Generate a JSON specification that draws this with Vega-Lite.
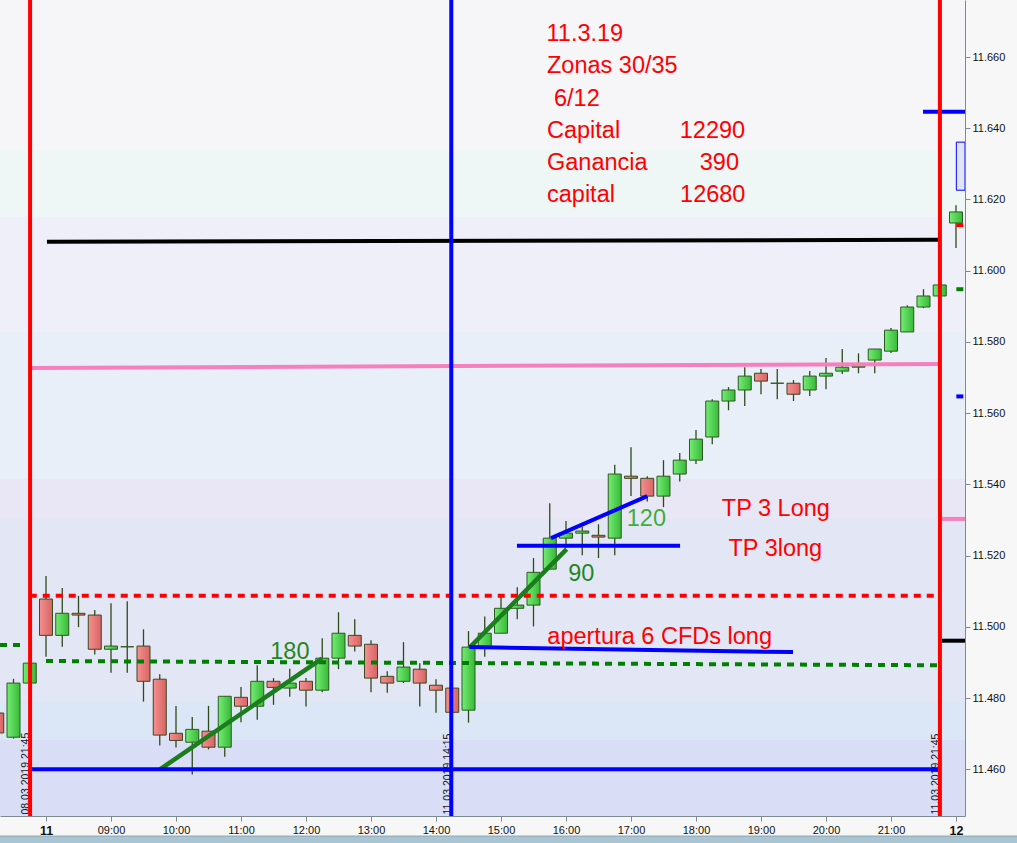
{
  "$schema": "https://vega.github.io/schema/vega-lite/v6.json",
  "width": 965,
  "height": 816,
  "autosize": {"type": "none"},
  "padding": {"left": 0, "top": 0, "right": 52, "bottom": 27},
  "background": "#f7f7f7",
  "config": {"view": {"stroke": null}, "font": "Liberation Sans"},
  "datasets": {
    "candles": [
      {"x": -3, "o": 11.4758, "h": 11.4765, "l": 11.4695, "c": 11.4702},
      {"x": -2, "o": 11.469, "h": 11.4854, "l": 11.4686, "c": 11.4842},
      {"x": -1, "o": 11.4842, "h": 11.4898, "l": 11.4842, "c": 11.4898},
      {"x": 0, "o": 11.5078, "h": 11.5143, "l": 11.4916, "c": 11.4976},
      {"x": 1, "o": 11.4976, "h": 11.5109, "l": 11.4944, "c": 11.5038},
      {"x": 2, "o": 11.5038, "h": 11.5087, "l": 11.4999, "c": 11.5033},
      {"x": 3, "o": 11.5033, "h": 11.5047, "l": 11.4922, "c": 11.4937},
      {"x": 4, "o": 11.4937, "h": 11.5066, "l": 11.4871, "c": 11.4946},
      {"x": 5, "o": 11.4944, "h": 11.5072, "l": 11.4871, "c": 11.4944},
      {"x": 6, "o": 11.4946, "h": 11.4993, "l": 11.479, "c": 11.4847},
      {"x": 7, "o": 11.4853, "h": 11.4867, "l": 11.4667, "c": 11.4696},
      {"x": 8, "o": 11.4701, "h": 11.4778, "l": 11.4661, "c": 11.4681},
      {"x": 9, "o": 11.4676, "h": 11.4747, "l": 11.4585, "c": 11.4712},
      {"x": 10, "o": 11.4707, "h": 11.4778, "l": 11.4656, "c": 11.4662},
      {"x": 11, "o": 11.4662, "h": 11.4805, "l": 11.4635, "c": 11.4805},
      {"x": 12, "o": 11.4802, "h": 11.4831, "l": 11.4732, "c": 11.4777},
      {"x": 13, "o": 11.4777, "h": 11.4892, "l": 11.4739, "c": 11.4847},
      {"x": 14, "o": 11.4847, "h": 11.4856, "l": 11.4781, "c": 11.483},
      {"x": 15, "o": 11.4828, "h": 11.4882, "l": 11.4804, "c": 11.4842},
      {"x": 16, "o": 11.4847, "h": 11.4856, "l": 11.4776, "c": 11.4822},
      {"x": 17, "o": 11.4822, "h": 11.4968, "l": 11.4816, "c": 11.4912},
      {"x": 18, "o": 11.4912, "h": 11.5041, "l": 11.4881, "c": 11.4982},
      {"x": 19, "o": 11.4976, "h": 11.5021, "l": 11.4931, "c": 11.4946},
      {"x": 20, "o": 11.4951, "h": 11.4962, "l": 11.4816, "c": 11.4856},
      {"x": 21, "o": 11.4861, "h": 11.4875, "l": 11.4815, "c": 11.4842},
      {"x": 22, "o": 11.4847, "h": 11.4957, "l": 11.4842, "c": 11.4887},
      {"x": 23, "o": 11.4881, "h": 11.4898, "l": 11.4776, "c": 11.4842},
      {"x": 24, "o": 11.4836, "h": 11.4853, "l": 11.4759, "c": 11.4822},
      {"x": 25, "o": 11.4828, "h": 11.4832, "l": 11.4758, "c": 11.476},
      {"x": 26, "o": 11.4766, "h": 11.4988, "l": 11.4731, "c": 11.4943},
      {"x": 27, "o": 11.4943, "h": 11.5029, "l": 11.4916, "c": 11.4982},
      {"x": 28, "o": 11.4982, "h": 11.5085, "l": 11.4982, "c": 11.5052},
      {"x": 29, "o": 11.5052, "h": 11.5111, "l": 11.5021, "c": 11.5061},
      {"x": 30, "o": 11.5061, "h": 11.5193, "l": 11.5001, "c": 11.5153},
      {"x": 31, "o": 11.5162, "h": 11.5347, "l": 11.5162, "c": 11.5249},
      {"x": 32, "o": 11.5249, "h": 11.5297, "l": 11.5222, "c": 11.5263},
      {"x": 33, "o": 11.5263, "h": 11.5281, "l": 11.5201, "c": 11.5269},
      {"x": 34, "o": 11.5257, "h": 11.5288, "l": 11.5193, "c": 11.5252},
      {"x": 35, "o": 11.5249, "h": 11.5455, "l": 11.5201, "c": 11.5429},
      {"x": 36, "o": 11.5423, "h": 11.5504, "l": 11.5367, "c": 11.5417},
      {"x": 37, "o": 11.5417, "h": 11.5423, "l": 11.5352, "c": 11.5367},
      {"x": 38, "o": 11.5367, "h": 11.5468, "l": 11.5336, "c": 11.5423},
      {"x": 39, "o": 11.5429, "h": 11.5488, "l": 11.5408, "c": 11.5468},
      {"x": 40, "o": 11.5468, "h": 11.5553, "l": 11.5457, "c": 11.5527},
      {"x": 41, "o": 11.5533, "h": 11.5639, "l": 11.5513, "c": 11.5634},
      {"x": 42, "o": 11.5634, "h": 11.5673, "l": 11.5608, "c": 11.5665},
      {"x": 43, "o": 11.5665, "h": 11.5729, "l": 11.562, "c": 11.5704},
      {"x": 44, "o": 11.5712, "h": 11.5724, "l": 11.5653, "c": 11.569},
      {"x": 45, "o": 11.5684, "h": 11.5724, "l": 11.5639, "c": 11.5684},
      {"x": 46, "o": 11.5684, "h": 11.5693, "l": 11.5634, "c": 11.5653},
      {"x": 47, "o": 11.5665, "h": 11.5718, "l": 11.5648, "c": 11.5704},
      {"x": 48, "o": 11.5704, "h": 11.5755, "l": 11.5667, "c": 11.5712},
      {"x": 49, "o": 11.5718, "h": 11.578, "l": 11.571, "c": 11.5729},
      {"x": 50, "o": 11.5729, "h": 11.5768, "l": 11.5712, "c": 11.5732},
      {"x": 51, "o": 11.5749, "h": 11.578, "l": 11.5712, "c": 11.578},
      {"x": 52, "o": 11.5774, "h": 11.5839, "l": 11.5769, "c": 11.5833},
      {"x": 53, "o": 11.5828, "h": 11.5903, "l": 11.5828, "c": 11.5898},
      {"x": 54, "o": 11.5898, "h": 11.5948, "l": 11.5895, "c": 11.5929},
      {"x": 55, "o": 11.5929, "h": 11.596, "l": 11.5929, "c": 11.596},
      {"x": 56, "o": 11.6134, "h": 11.6184, "l": 11.6064, "c": 11.6165}
    ],
    "bands": [
      {"lo": 11.6338, "hi": 11.67601, "band": "b1"},
      {"lo": 11.6152, "hi": 11.6338, "band": "b2"},
      {"lo": 11.5829, "hi": 11.6152, "band": "b3"},
      {"lo": 11.5415, "hi": 11.5829, "band": "b4"},
      {"lo": 11.5303, "hi": 11.5415, "band": "b5"},
      {"lo": 11.4792, "hi": 11.5303, "band": "b6"},
      {"lo": 11.4682, "hi": 11.4792, "band": "b7"},
      {"lo": 11.44688, "hi": 11.4682, "band": "b8"}
    ],
    "segs": [
      {"name": "black", "x": 0.06, "x2": 54.95, "y": 11.6081, "y2": 11.6087},
      {"name": "black", "x": 55.14, "x2": 56.554, "y": 11.4961, "y2": 11.4961},
      {"name": "pink", "x": -1, "x2": 55, "y": 11.5727, "y2": 11.5738},
      {"name": "pink", "x": 55.14, "x2": 56.554, "y": 11.5303, "y2": 11.5303},
      {"name": "reddash", "x": -1, "x2": 55, "y": 11.5087, "y2": 11.5087},
      {"name": "redmark", "x": 56.02, "x2": 56.45, "y": 11.6128, "y2": 11.6128},
      {"name": "greendash", "x": 0, "x2": 55, "y": 11.4904, "y2": 11.4892},
      {"name": "greendash", "x": -2.83, "x2": -1.3, "y": 11.4949, "y2": 11.4949},
      {"name": "greenmark", "x": 56.02, "x2": 56.45, "y": 11.5948, "y2": 11.5948},
      {"name": "greenline", "x": 7.02, "x2": 16.98, "y": 11.46, "y2": 11.4911},
      {"name": "greenline", "x": 26.05, "x2": 32.04, "y": 11.4941, "y2": 11.5218},
      {"name": "blue", "x": -1, "x2": 55, "y": 11.46, "y2": 11.46},
      {"name": "blue", "x": 28.98, "x2": 39.02, "y": 11.5228, "y2": 11.5228},
      {"name": "blue", "x": 31.08, "x2": 37.0, "y": 11.5249, "y2": 11.5367},
      {"name": "blue", "x": 26.05, "x2": 45.97, "y": 11.4943, "y2": 11.4929},
      {"name": "blue", "x": 53.97, "x2": 56.554, "y": 11.6446, "y2": 11.6446},
      {"name": "blue", "x": 56.02, "x2": 56.45, "y": 11.5647, "y2": 11.5647}
    ],
    "vlines": [
      {"x": -0.98, "kind": "red"},
      {"x": 55.01, "kind": "red"},
      {"x": 24.94, "kind": "blue"}
    ],
    "redtext": [
      {"x": 30.8, "y": 11.6644, "t": "11.3.19"},
      {"x": 30.83, "y": 11.6555, "t": "Zonas 30/35"},
      {"x": 31.26, "y": 11.6463, "t": "6/12"},
      {"x": 30.83, "y": 11.6372, "t": "Capital"},
      {"x": 39.0, "y": 11.6372, "t": "12290"},
      {"x": 30.83, "y": 11.6283, "t": "Ganancia"},
      {"x": 40.23, "y": 11.6283, "t": "390"},
      {"x": 30.83, "y": 11.6192, "t": "capital"},
      {"x": 39.02, "y": 11.6192, "t": "12680"},
      {"x": 30.85, "y": 11.4952, "t": "apertura 6 CFDs long"},
      {"x": 41.59, "y": 11.531, "t": "TP 3 Long"},
      {"x": 42.0, "y": 11.5199, "t": "TP 3long"}
    ],
    "greentext": [
      {"x": 13.8, "y": 11.4909, "t": "180", "g": "dark"},
      {"x": 32.14, "y": 11.5128, "t": "90", "g": "dark"},
      {"x": 35.74, "y": 11.5284, "t": "120", "g": "light"}
    ],
    "vtext": [
      {"x": -1.03, "y": 11.4473, "t": "08.03.2019 21:45"},
      {"x": 24.9, "y": 11.4473, "t": "11.03.2019 14:15"},
      {"x": 54.97, "y": 11.4473, "t": "11.03.2019 21:45"}
    ],
    "strip": [
      {"xa": -3.5, "xb": 60.5, "ya": 11.44125, "yb": 11.4385}
    ],
    "box": [
      {"x": 56.02, "x2": 56.554, "y": 11.6226, "y2": 11.6361}
    ]
  },
  "layer": [
    {
      "data": {"name": "bands"},
      "mark": {"type": "rect"},
      "encoding": {
        "y": {"field": "lo", "type": "quantitative", "scale": {"domain": [11.44688, 11.67601], "nice": false, "zero": false},
          "axis": {"orient": "right", "title": null, "grid": false, "values": [11.46, 11.48, 11.50, 11.52, 11.54, 11.56, 11.58, 11.60, 11.62, 11.64, 11.66], "format": ".3f", "labelFont": "Liberation Sans", "labelFontSize": 11, "labelColor": "#111111", "tickColor": "#7d8a91", "domainColor": "#7d8a91", "tickSize": 5, "labelPadding": 2, "labelOverlap": false, "labelFlush": false, "zindex": 1}},
        "y2": {"field": "hi"},
        "color": {"field": "band", "type": "nominal", "legend": null,
          "scale": {"domain": ["b1", "b2", "b3", "b4", "b5", "b6", "b7", "b8"],
                    "range": ["#f6f6f8", "#eff6f6", "#eeeff8", "#e9eff8", "#e9e6f5", "#e3e7f5", "#dbe7f6", "#d9ddf5"]}}
      }
    },
    {
      "data": {"name": "candles"},
      "mark": {"type": "rule", "color": "#2f4a1a", "strokeWidth": 1.3},
      "encoding": {
        "x": {
          "field": "x", "type": "quantitative",
          "scale": {"domain": [-2.831, 56.554], "nice": false, "zero": false, "padding": 0},
          "axis": {
            "orient": "bottom", "title": null, "grid": false,
            "values": [0, 4, 8, 12, 16, 20, 24, 28, 32, 36, 40, 44, 48, 52, 56],
            "labelExpr": "datum.value == 0 ? '11' : datum.value == 56 ? '12' : ((8 + datum.value / 4) < 10 ? '0' : '') + (8 + datum.value / 4) + ':00'",
            "labelFont": "Liberation Sans",
            "labelFontSize": {"condition": {"test": "datum.value == 0 || datum.value == 56", "value": 12.5}, "value": 11},
            "labelFontWeight": {"condition": {"test": "datum.value == 0 || datum.value == 56", "value": "bold"}, "value": "normal"},
            "labelColor": "#111111", "tickColor": "#7d8a91", "domainColor": "#7d8a91",
            "tickSize": 5, "labelPadding": 3, "labelOverlap": false, "labelFlush": false, "zindex": 1
          }
        },
        "y": {"field": "l", "type": "quantitative", "scale": {"domain": [11.44688, 11.67601], "nice": false, "zero": false},
          "axis": {"orient": "right", "title": null, "grid": false, "values": [11.46, 11.48, 11.50, 11.52, 11.54, 11.56, 11.58, 11.60, 11.62, 11.64, 11.66], "format": ".3f", "labelFont": "Liberation Sans", "labelFontSize": 11, "labelColor": "#111111", "tickColor": "#7d8a91", "domainColor": "#7d8a91", "tickSize": 5, "labelPadding": 2, "labelOverlap": false, "labelFlush": false, "zindex": 1}},
        "y2": {"field": "h"}
      }
    },
    {
      "data": {"name": "vtext"},
      "mark": {"type": "text", "angle": 270, "align": "left", "baseline": "alphabetic", "fontSize": 10.5, "font": "Liberation Sans", "color": "#151515"},
      "encoding": {
        "x": {"field": "x", "type": "quantitative", "scale": {"domain": [-2.831, 56.554], "nice": false, "zero": false, "padding": 0}},
        "y": {"field": "y", "type": "quantitative", "scale": {"domain": [11.44688, 11.67601], "nice": false, "zero": false}},
        "text": {"field": "t"}
      }
    },
    {
      "data": {"name": "candles"},
      "transform": [{"filter": "datum.c >= datum.o"}],
      "mark": {"type": "bar", "size": 13, "stroke": "#2d5a1e", "strokeWidth": 1,
        "fill": {"gradient": "linear", "x1": 0, "y1": 0, "x2": 1, "y2": 0,
          "stops": [{"offset": 0, "color": "#74ec74"}, {"offset": 1, "color": "#37b937"}]}},
      "encoding": {
        "x": {"field": "x", "type": "quantitative", "scale": {"domain": [-2.831, 56.554], "nice": false, "zero": false, "padding": 0}},
        "y": {"field": "o", "type": "quantitative", "scale": {"domain": [11.44688, 11.67601], "nice": false, "zero": false}},
        "y2": {"field": "c"}
      }
    },
    {
      "data": {"name": "candles"},
      "transform": [{"filter": "datum.c < datum.o"}],
      "mark": {"type": "bar", "size": 13, "stroke": "#3a4a1e", "strokeWidth": 1,
        "fill": {"gradient": "linear", "x1": 0, "y1": 0, "x2": 1, "y2": 0,
          "stops": [{"offset": 0, "color": "#f59090"}, {"offset": 1, "color": "#d76464"}]}},
      "encoding": {
        "x": {"field": "x", "type": "quantitative", "scale": {"domain": [-2.831, 56.554], "nice": false, "zero": false, "padding": 0}},
        "y": {"field": "o", "type": "quantitative", "scale": {"domain": [11.44688, 11.67601], "nice": false, "zero": false}},
        "y2": {"field": "c"}
      }
    },
    {
      "data": {"name": "segs"},
      "transform": [{"filter": "datum.name == 'black'"}],
      "mark": {"type": "rule", "color": "#000000", "strokeWidth": 4},
      "encoding": {
        "x": {"field": "x", "type": "quantitative", "scale": {"domain": [-2.831, 56.554], "nice": false, "zero": false, "padding": 0}},
        "x2": {"field": "x2"},
        "y": {"field": "y", "type": "quantitative", "scale": {"domain": [11.44688, 11.67601], "nice": false, "zero": false}},
        "y2": {"field": "y2"}
      }
    },
    {
      "data": {"name": "segs"},
      "transform": [{"filter": "datum.name == 'pink'"}],
      "mark": {"type": "rule", "color": "#f77fbd", "strokeWidth": 4},
      "encoding": {
        "x": {"field": "x", "type": "quantitative", "scale": {"domain": [-2.831, 56.554], "nice": false, "zero": false, "padding": 0}},
        "x2": {"field": "x2"},
        "y": {"field": "y", "type": "quantitative", "scale": {"domain": [11.44688, 11.67601], "nice": false, "zero": false}},
        "y2": {"field": "y2"}
      }
    },
    {
      "data": {"name": "segs"},
      "transform": [{"filter": "datum.name == 'reddash' || datum.name == 'redmark'"}],
      "mark": {"type": "rule", "color": "#ff0000", "strokeWidth": 4, "strokeDash": [7, 6]},
      "encoding": {
        "x": {"field": "x", "type": "quantitative", "scale": {"domain": [-2.831, 56.554], "nice": false, "zero": false, "padding": 0}},
        "x2": {"field": "x2"},
        "y": {"field": "y", "type": "quantitative", "scale": {"domain": [11.44688, 11.67601], "nice": false, "zero": false}},
        "y2": {"field": "y2"}
      }
    },
    {
      "data": {"name": "segs"},
      "transform": [{"filter": "datum.name == 'greendash' || datum.name == 'greenmark'"}],
      "mark": {"type": "rule", "color": "#008000", "strokeWidth": 4, "strokeDash": [7, 6]},
      "encoding": {
        "x": {"field": "x", "type": "quantitative", "scale": {"domain": [-2.831, 56.554], "nice": false, "zero": false, "padding": 0}},
        "x2": {"field": "x2"},
        "y": {"field": "y", "type": "quantitative", "scale": {"domain": [11.44688, 11.67601], "nice": false, "zero": false}},
        "y2": {"field": "y2"}
      }
    },
    {
      "data": {"name": "segs"},
      "transform": [{"filter": "datum.name == 'greenline'"}],
      "mark": {"type": "rule", "color": "#1b7d1b", "strokeWidth": 4.5},
      "encoding": {
        "x": {"field": "x", "type": "quantitative", "scale": {"domain": [-2.831, 56.554], "nice": false, "zero": false, "padding": 0}},
        "x2": {"field": "x2"},
        "y": {"field": "y", "type": "quantitative", "scale": {"domain": [11.44688, 11.67601], "nice": false, "zero": false}},
        "y2": {"field": "y2"}
      }
    },
    {
      "data": {"name": "segs"},
      "transform": [{"filter": "datum.name == 'blue'"}],
      "mark": {"type": "rule", "color": "#0000ff", "strokeWidth": 4},
      "encoding": {
        "x": {"field": "x", "type": "quantitative", "scale": {"domain": [-2.831, 56.554], "nice": false, "zero": false, "padding": 0}},
        "x2": {"field": "x2"},
        "y": {"field": "y", "type": "quantitative", "scale": {"domain": [11.44688, 11.67601], "nice": false, "zero": false}},
        "y2": {"field": "y2"}
      }
    },
    {
      "data": {"name": "box"},
      "mark": {"type": "rect", "fill": "#dfe5f7", "stroke": "#0000ff", "strokeWidth": 1},
      "encoding": {
        "x": {"field": "x", "type": "quantitative", "scale": {"domain": [-2.831, 56.554], "nice": false, "zero": false, "padding": 0}},
        "x2": {"field": "x2"},
        "y": {"field": "y", "type": "quantitative", "scale": {"domain": [11.44688, 11.67601], "nice": false, "zero": false}},
        "y2": {"field": "y2"}
      }
    },
    {
      "data": {"name": "vlines"},
      "transform": [{"filter": "datum.kind == 'red'"}],
      "mark": {"type": "rule", "color": "#ff0000", "strokeWidth": 4},
      "encoding": {
        "x": {"field": "x", "type": "quantitative", "scale": {"domain": [-2.831, 56.554], "nice": false, "zero": false, "padding": 0}}
      }
    },
    {
      "data": {"name": "vlines"},
      "transform": [{"filter": "datum.kind == 'blue'"}],
      "mark": {"type": "rule", "color": "#0000ff", "strokeWidth": 4},
      "encoding": {
        "x": {"field": "x", "type": "quantitative", "scale": {"domain": [-2.831, 56.554], "nice": false, "zero": false, "padding": 0}}
      }
    },
    {
      "data": {"name": "redtext"},
      "mark": {"type": "text", "align": "left", "baseline": "alphabetic", "fontSize": 23.5, "font": "Liberation Sans", "color": "#ff0000"},
      "encoding": {
        "x": {"field": "x", "type": "quantitative", "scale": {"domain": [-2.831, 56.554], "nice": false, "zero": false, "padding": 0}},
        "y": {"field": "y", "type": "quantitative", "scale": {"domain": [11.44688, 11.67601], "nice": false, "zero": false}},
        "text": {"field": "t"}
      }
    },
    {
      "data": {"name": "greentext"},
      "transform": [{"filter": "datum.g == 'dark'"}],
      "mark": {"type": "text", "align": "left", "baseline": "alphabetic", "fontSize": 23.5, "font": "Liberation Sans", "color": "#23861f"},
      "encoding": {
        "x": {"field": "x", "type": "quantitative", "scale": {"domain": [-2.831, 56.554], "nice": false, "zero": false, "padding": 0}},
        "y": {"field": "y", "type": "quantitative", "scale": {"domain": [11.44688, 11.67601], "nice": false, "zero": false}},
        "text": {"field": "t"}
      }
    },
    {
      "data": {"name": "greentext"},
      "transform": [{"filter": "datum.g == 'light'"}],
      "mark": {"type": "text", "align": "left", "baseline": "alphabetic", "fontSize": 23.5, "font": "Liberation Sans", "color": "#3cae3c"},
      "encoding": {
        "x": {"field": "x", "type": "quantitative", "scale": {"domain": [-2.831, 56.554], "nice": false, "zero": false, "padding": 0}},
        "y": {"field": "y", "type": "quantitative", "scale": {"domain": [11.44688, 11.67601], "nice": false, "zero": false}},
        "text": {"field": "t"}
      }
    },
    {
      "data": {"name": "strip"},
      "mark": {"type": "rect", "fill": "#a9c4d3", "stroke": "#8fa6b2", "strokeWidth": 1},
      "encoding": {
        "x": {"field": "xa", "type": "quantitative", "scale": {"domain": [-2.831, 56.554], "nice": false, "zero": false, "padding": 0}},
        "x2": {"field": "xb"},
        "y": {"field": "ya", "type": "quantitative", "scale": {"domain": [11.44688, 11.67601], "nice": false, "zero": false}},
        "y2": {"field": "yb"}
      }
    }
  ]
}
